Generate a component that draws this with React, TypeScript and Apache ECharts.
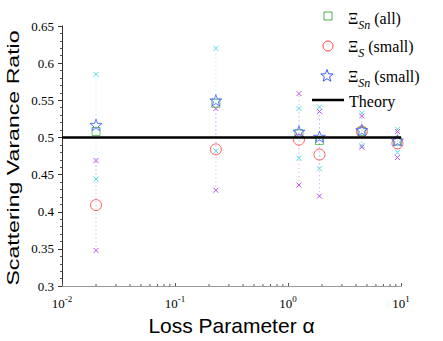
import React, { useEffect, useRef } from "react";
import * as echarts from "echarts";

// ---- data ----
const alpha = [0.02, 0.23, 1.25, 1.9, 4.5, 9.3];
const sigmaSnAll = [0.508, 0.546, 0.505, 0.496, 0.508, 0.495];
const sigmaSSmall = [0.409, 0.484, 0.497, 0.477, 0.508, 0.492];
const sigmaSnSmall = [0.517, 0.55, 0.508, 0.501, 0.51, 0.496];
const cyanHigh = [0.585, 0.62, 0.539, 0.541, 0.533, 0.511];
const cyanLow = [0.444, 0.482, 0.472, 0.458, 0.489, 0.48];
const purpleHigh = [0.469, 0.539, 0.559, 0.535, 0.529, 0.508];
const purpleLow = [0.348, 0.429, 0.436, 0.421, 0.487, 0.473];
const theoryX = [0.01, 10];
const theoryY = [0.5, 0.5];
const yTicks = { min: 0.3, max: 0.65, interval: 0.05 };
const xDecades = [0.01, 0.1, 1];
const minorFactors = [2, 3, 4, 5, 6, 7, 8, 9];

const GREEN = "#4cb04c";
const RED = "#ff3b3b";
const BLUE = "#3a5cff";
const CYAN = "#55dede";
const PURPLE = "#bb55ee";

const STAR =
  "path://M0,-10 L2.35,-3.24 L9.51,-3.09 L3.8,1.24 L5.88,8.09 L0,4 L-5.88,8.09 L-3.8,1.24 L-9.51,-3.09 L-2.35,-3.24 Z";

function errRender(color: string, lineColor: string) {
  return (_params: any, api: any) => {
    const lo = api.coord([api.value(0), api.value(1)]);
    const hi = api.coord([api.value(0), api.value(2)]);
    const s = 2.5;
    const cross = (p: number[]) => [
      { type: "line", shape: { x1: p[0] - s, y1: p[1] - s, x2: p[0] + s, y2: p[1] + s }, style: { stroke: color, lineWidth: 1 } },
      { type: "line", shape: { x1: p[0] - s, y1: p[1] + s, x2: p[0] + s, y2: p[1] - s }, style: { stroke: color, lineWidth: 1 } },
    ];
    return {
      type: "group",
      children: [
        {
          type: "line",
          shape: { x1: lo[0], y1: lo[1], x2: hi[0], y2: hi[1] },
          style: { stroke: lineColor, lineWidth: 1, lineDash: [1, 3] },
        },
        ...cross(lo),
        ...cross(hi),
      ],
    };
  };
}

function starPoints(cx: number, cy: number, R: number, r: number) {
  const pts: number[][] = [];
  for (let i = 0; i < 10; i++) {
    const ang = -Math.PI / 2 + (i * Math.PI) / 5;
    const rad = i % 2 === 0 ? R : r;
    pts.push([cx + rad * Math.cos(ang), cy + rad * Math.sin(ang)]);
  }
  return pts;
}

const serif = "Liberation Serif, Times New Roman, serif";
const sans = "Liberation Sans, Arial, Helvetica, sans-serif";

const legendRich = {
  m: { fontFamily: serif, fontSize: 16, color: "#000" },
  s: { fontFamily: serif, fontSize: 12, fontStyle: "italic", color: "#000", padding: [14, 0, 0, 0] },
};

export default function App() {
  const ref = useRef<HTMLDivElement>(null);
  useEffect(() => {
    const chart = echarts.init(ref.current!, null, { renderer: "svg" });
    const minorTicks: number[][] = [];
    xDecades.forEach((d) => minorFactors.forEach((f) => minorTicks.push([d * f, yTicks.min])));

    const option: any = {
      animation: false,
      backgroundColor: "#fff",
      textStyle: { fontFamily: serif },
      grid: { left: 62, right: 42, top: 26, bottom: 53 },
      xAxis: {
        type: "log",
        logBase: 10,
        min: 0.01,
        max: 10,
        name: "Loss Parameter α",
        nameLocation: "middle",
        nameGap: 28,
        nameTextStyle: { fontFamily: sans, fontSize: 21, color: "#000" },
        axisLine: { lineStyle: { color: "#999", width: 1 } },
        axisTick: { show: true, inside: true, length: 3, lineStyle: { color: "#555" } },
        splitLine: { show: false },
        axisLabel: {
          margin: 8,
          fontFamily: serif,
          fontSize: 13,
          color: "#000",
          formatter: (v: number) => "10{sup|" + Math.round(Math.log10(v)) + "}",
          rich: { sup: { fontFamily: serif, fontSize: 9, color: "#000", padding: [0, 0, 10, 0] } },
        },
      },
      yAxis: {
        type: "value",
        min: yTicks.min,
        max: yTicks.max,
        interval: yTicks.interval,
        axisLine: { show: true, lineStyle: { color: "#333", width: 1 } },
        axisTick: { show: true, inside: false, length: 4, lineStyle: { color: "#333" } },
        minorTick: { show: true, splitNumber: 5, length: 2, lineStyle: { color: "#555" } },
        splitLine: { show: false },
        minorSplitLine: { show: false },
        axisLabel: {
          margin: 8,
          fontFamily: serif,
          fontSize: 13,
          color: "#000",
          formatter: (v: number) => String(parseFloat(v.toFixed(2))),
        },
      },
      series: [
        {
          type: "custom",
          name: "minor",
          data: minorTicks,
          encode: { x: 0, y: 1 },
          silent: true,
          renderItem: (_p: any, api: any) => {
            const p = api.coord([api.value(0), api.value(1)]);
            return {
              type: "line",
              shape: { x1: p[0], y1: p[1], x2: p[0], y2: p[1] - 2 },
              style: { stroke: "#555", lineWidth: 1 },
            };
          },
        },
        {
          type: "custom",
          name: "cyanBars",
          data: alpha.map((a, i) => [a, cyanLow[i], cyanHigh[i]]),
          encode: { x: 0, y: [1, 2] },
          silent: true,
          renderItem: errRender(CYAN, "#a8eeee"),
        },
        {
          type: "custom",
          name: "purpleBars",
          data: alpha.map((a, i) => [a, purpleLow[i], purpleHigh[i]]),
          encode: { x: 0, y: [1, 2] },
          silent: true,
          renderItem: errRender(PURPLE, "#dda6f6"),
        },
        {
          type: "line",
          name: "Theory",
          data: theoryX.map((x, i) => [x, theoryY[i]]),
          symbol: "none",
          lineStyle: { color: "#000", width: 2.5 },
          silent: true,
        },
        {
          type: "scatter",
          name: "ΞSn (all)",
          data: alpha.map((a, i) => [a, sigmaSnAll[i]]),
          symbol: "rect",
          symbolSize: 8,
          itemStyle: { color: "transparent", borderColor: GREEN, borderWidth: 1 },
          silent: true,
        },
        {
          type: "scatter",
          name: "ΞS (small)",
          data: alpha.map((a, i) => [a, sigmaSSmall[i]]),
          symbol: "circle",
          symbolSize: 11,
          itemStyle: { color: "transparent", borderColor: RED, borderWidth: 1 },
          silent: true,
        },
        {
          type: "scatter",
          name: "ΞSn (small)",
          data: alpha.map((a, i) => [a, sigmaSnSmall[i]]),
          symbol: STAR,
          symbolSize: 12,
          symbolKeepAspect: true,
          itemStyle: { color: "transparent", borderColor: BLUE, borderWidth: 1 },
          silent: true,
        },
      ],
      graphic: [
        {
          type: "text",
          x: 13,
          y: 158,
          rotation: Math.PI / 2,
          scaleX: 1.36,
          style: {
            text: "Scattering Varance Ratio",
            font: "17px " + sans,
            fill: "#000",
            align: "center",
            verticalAlign: "middle",
          },
        },
        // legend
        { type: "rect", shape: { x: 324, y: 12, width: 8, height: 8 }, style: { fill: "none", stroke: GREEN, lineWidth: 1 } },
        { type: "circle", shape: { cx: 328, cy: 46, r: 5 }, style: { fill: "none", stroke: RED, lineWidth: 1 } },
        { type: "polygon", shape: { points: starPoints(327, 76, 6.5, 2.7) }, style: { fill: "none", stroke: BLUE, lineWidth: 1 } },
        { type: "line", shape: { x1: 312, y1: 100, x2: 344, y2: 100 }, style: { stroke: "#000", lineWidth: 2.5 } },
        {
          type: "text",
          x: 348,
          y: 18,
          style: { text: "{m|Ξ}{s|Sn}{m| (all)}", rich: legendRich, verticalAlign: "middle" },
        },
        {
          type: "text",
          x: 348,
          y: 46,
          style: { text: "{m|Ξ}{s|S}{m| (small)}", rich: legendRich, verticalAlign: "middle" },
        },
        {
          type: "text",
          x: 348,
          y: 76,
          style: { text: "{m|Ξ}{s|Sn}{m| (small)}", rich: legendRich, verticalAlign: "middle" },
        },
        {
          type: "text",
          x: 349,
          y: 101,
          style: { text: "Theory", font: "16px " + serif, fill: "#000", verticalAlign: "middle" },
        },
      ],
    };
    chart.setOption(option);
    return () => chart.dispose();
  }, []);
  return <div ref={ref} style={{ position: "absolute", left: 0, top: 0, width: 443, height: 341 }} />;
}
